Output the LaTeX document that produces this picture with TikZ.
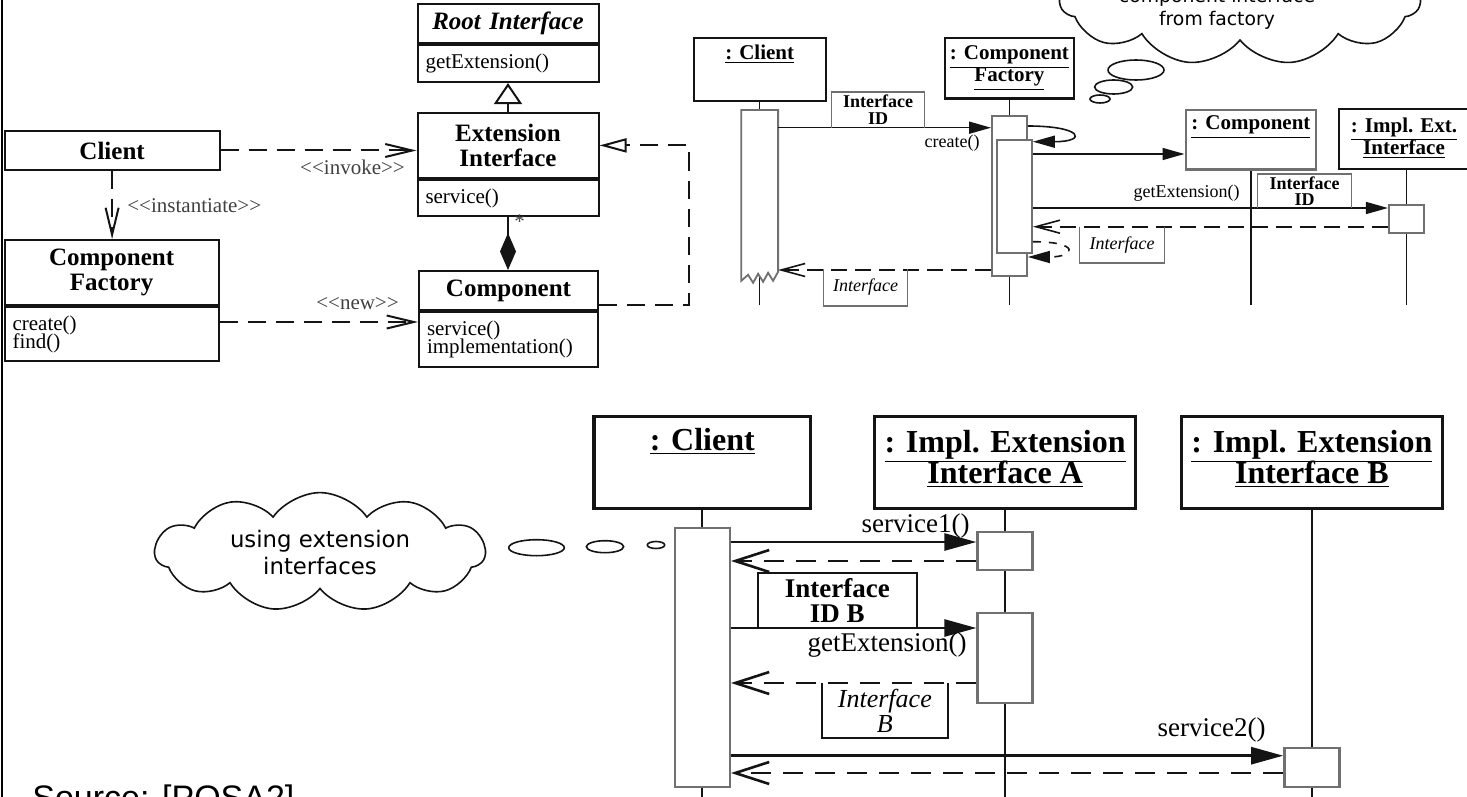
\documentclass[tikz,border=0pt]{standalone}
\usepackage{fontspec}
\usepackage{tikz}
\usetikzlibrary{arrows.meta,calc,positioning,shapes.symbols}
\setmainfont{Liberation Serif}
\newfontfamily\cloudfont{DejaVu Sans}
\newfontfamily\notefont{Liberation Sans}
\definecolor{Ink}{HTML}{141414}
\definecolor{Pale}{HTML}{707070}
\newcommand{\clsfont}{\fontsize{12.5}{12.5}\selectfont\bfseries\lineskiplimit=-20pt}
\newcommand{\opsfont}{\fontsize{10.5}{9.2}\selectfont\lineskiplimit=-20pt}
\newcommand{\hdsmall}{\fontsize{10.5}{11}\selectfont\bfseries\lineskiplimit=-20pt}
\newcommand{\tagsmall}{\fontsize{9}{8.4}\selectfont\bfseries\lineskiplimit=-20pt}
\newcommand{\msgsmall}{\fontsize{9}{10}\selectfont}
\newcommand{\hdbig}{\fontsize{16}{15.7}\selectfont\bfseries\lineskiplimit=-20pt}
\newcommand{\tagbig}{\fontsize{13.5}{12.5}\selectfont\bfseries\lineskiplimit=-20pt}
\newcommand{\tagbigit}{\fontsize{13}{12.5}\selectfont\itshape\lineskiplimit=-20pt}
\newcommand{\msgbig}{\fontsize{13.5}{14}\selectfont}
\newcommand{\stname}[1]{<\kern0pt<#1>\kern0pt>}

\begin{document}
\begin{tikzpicture}[x=0.5pt,y=-0.5pt,
    cls/.style={draw=Ink,line width=1pt,fill=white,inner xsep=4pt,inner ysep=1pt,align=center,font=\clsfont},
    ops/.style={cls,align=left,font=\opsfont},
    stereo/.style={inner sep=1pt,text=black!75,font=\opsfont},
    dep/.style={draw=Ink,line width=1pt,dash pattern=on 9pt off 5pt,-{Straight Barb[length=13.5pt,width=6.5pt]}},
    gen/.style={draw=Ink,line width=1pt,-{Triangle[open,length=10.5pt,width=14pt]}},
    real/.style={dep,-{Triangle[open,length=13.5pt,width=7pt]}},
    whole/.style={draw=Ink,line width=1pt,-{Diamond[length=18.5pt,width=8pt]}},
    head/.style={draw=Ink,line width=1.2pt,fill=white,anchor=north west},
    bighead/.style={head,line width=1.6pt},
    objname/.style={align=center,inner sep=1pt},
    act/.style={draw=Pale,line width=0.9pt,fill=white,anchor=north,minimum width=17.5pt,inner sep=0pt},
    bigact/.style={act,line width=1.2pt,minimum width=27.5pt},
    life/.style={draw=Ink,line width=0.7pt},
    biglife/.style={draw=Ink,line width=1.1pt},
    call/.style={draw=Ink,line width=0.8pt,-{Triangle[length=11pt,width=6pt]}},
    ret/.style={draw=Ink,line width=0.8pt,dash pattern=on 8pt off 4pt,-{Straight Barb[length=12pt,width=6.5pt]}},
    bigcall/.style={draw=Ink,line width=1.3pt,-{Triangle[length=16pt,width=8.5pt]}},
    bigret/.style={draw=Ink,line width=1.3pt,dash pattern=on 10pt off 6pt,-{Straight Barb[length=17pt,width=11pt]}},
    tag/.style={inner sep=0pt,align=center},
    tagline/.style={draw=Pale,line width=0.8pt},
    think/.style={cloud,cloud puffs=11,cloud puff arc=110,cloud ignores aspect,draw=Ink,line width=0.8pt,fill=white,align=center},
    bubble/.style={draw=Ink,line width=0.8pt,fill=white}]
  \useasboundingbox (0,0) rectangle (1467,797);
  \clip (0,0) rectangle (1467,797);
  \draw[line width=1pt] (2,0) -- (2,797);

  \node[think,minimum width=180pt,minimum height=65pt] (getCloud) at (1240,0) {};
  \node[align=center,font=\cloudfont\fontsize{9.4}{11.5}\selectfont] (getText) at (1217,9) {component interface\\from factory};
  \foreach \cx/\cy/\rx/\ry in {1136/70/28/10, 1113.6/87/19/7, 1100/99/10/4}
    \draw[bubble] (\cx,\cy) ellipse [x radius=\rx, y radius=\ry];
  \node[think,minimum width=165pt,minimum height=43pt,font=\cloudfont\fontsize{11.4}{13.5}\selectfont] (useCloud) at (320,552) {using extension\\interfaces};
  \foreach \cx/\cy/\rx/\ry in {536.5/547.7/27.8/8, 605/546.7/18.6/6, 656/545/8.7/3.5}
    \draw[bubble] (\cx,\cy) ellipse [x radius=\rx, y radius=\ry];

  \node[cls,anchor=north west,text width=82.5pt,minimum height=19.5pt] (rootT) at (416.5,2.7) {\textit{Root Interface}};
  \node[ops,below=0pt of rootT,text width=82.5pt,minimum height=18.7pt] (rootO) {getExtension()};
  \node[cls,anchor=north west,text width=82.5pt,minimum height=32.4pt] (extT) at (416.5,112) {Extension\\Interface};
  \node[ops,below=0pt of extT,text width=82.5pt,minimum height=18.2pt] (extO) {service()};
  \node[cls,anchor=north west,text width=99.5pt,minimum height=19.5pt] (client) at (3.6,130) {Client};
  \node[cls,anchor=north west,text width=99pt,minimum height=32.5pt] (factT) at (3.6,239) {Component\\Factory};
  \node[ops,below=0pt of factT,text width=99pt,minimum height=27.2pt] (factO) {create()\\find()};
  \node[cls,anchor=north west,text width=81.5pt,minimum height=19.5pt] (compT) at (418,270) {Component};
  \node[ops,below=0pt of compT,text width=81.5pt,minimum height=27.5pt] (compO) {service()\\implementation()};

  \draw[gen] (extT.north) -- (rootO.south);
  \draw[dep] (client.east) -- (client.east -| extT.west);
  \node[stereo] (invokeL) at (352.5,167.7) {\stname{invoke}};
  \draw[dep] (client.south) -- (client.south |- factT.north);
  \node[stereo,anchor=west] (instL) at (125,205.7) {\stname{instantiate}};
  \coordinate (newS) at ($(factO.north east)+(0,16)$);
  \draw[dep] (newS) -- (newS -| compO.west);
  \node[stereo] (newL) at (357.5,304) {\stname{new}};
  \draw[whole] (extO.south) -- (extO.south |- compT.north);
  \node[stereo,anchor=west] (star) at (512,222) {*};
  \coordinate (realS) at ($(compT.south east)+(0,-6)$);
  \draw[real] (realS) -| ($(extT.east)+(89,0)$) -- (extT.east);

  \node[head,minimum width=66pt,minimum height=31.65pt] (c1) at (692.5,36.7) {};
  \node[objname,font=\hdsmall] (c1n) at (c1.north |- 0,54) {\underline{: Client}};
  \node[head,minimum width=64.75pt,minimum height=30.3pt] (f1) at (943.5,36.7) {};
  \node[objname,font=\hdsmall] (f1n) at (f1.north |- 0,68) {\underline{: Component}\\\underline{Factory}};
  \node[head,draw=Pale,minimum width=65.25pt,minimum height=29.65pt] (p1) at (1184.5,109) {};
  \node[objname,font=\hdsmall] (p1n) at (p1.north |- 0,127) {\underline{: Component}};
  \node[head,minimum width=67.5pt,minimum height=30pt] (i1) at (1337.6,108) {};
  \node[objname,font=\hdsmall] (i1n) at (1404,138) {\underline{: Impl. Ext.}\\\underline{Interface}};
  \coordinate (endTop) at (0,305);
  \foreach \o in {c1,f1,p1,i1}
    \draw[life] (\o.south) -- (\o.south |- endTop);

  \node[act,draw=none,fill=none,minimum height=84.5pt] (ca1) at (c1.south |- 0,110) {};
  \filldraw[act] (ca1.south west) -- (ca1.north west) -- (ca1.north east) -- ($(ca1.south east)+(0,-9)$)
    \foreach \k in {1,2,3} { -- ++(-5,9) -- ++(-5,-8) } -- cycle;
  \node[act,minimum height=80pt] (fa1) at (f1.south |- 0,115) {};
  \node[act,minimum height=56.35pt,xshift=2.5pt] (fa2) at (f1.south |- 0,139) {};
  \node[act,minimum height=14pt] (ia1) at (i1.south |- 0,204) {};

  \draw[call] (ca1.east |- 0,127.7) -- (fa1.west |- 0,127.7);
  \node[tag,font=\tagsmall,minimum width=46pt,minimum height=17.5pt,anchor=south] (idTag1) at (878,127.7) {Interface\\ID};
  \draw[tagline] (idTag1.south west) |- (idTag1.north east) -- (idTag1.south east);
  \node[font=\msgsmall,anchor=east,inner sep=1pt] (createL) at (982,143) {create()};
  \draw[call] (fa1.east |- 0,126) .. controls +(55,0) and +(55,0) .. (fa2.east |- 0,141.7);
  \draw[call] (fa2.east |- 0,154) -- (p1.west |- 0,154);
  \draw[call] (fa2.east |- 0,208) -- (ia1.west |- 0,208);
  \node[font=\msgsmall,anchor=east,inner sep=1pt] (getL1) at (1242,193) {getExtension()};
  \node[tag,font=\tagsmall,minimum width=46.5pt,minimum height=16.5pt,anchor=south] (idTag2) at (1304.5,208) {Interface\\ID};
  \draw[tagline] (idTag2.south west) |- (idTag2.north east) -- (idTag2.south east);
  \draw[ret] (ia1.west |- 0,226.7) -- (fa2.east |- 0,226.7);
  \node[tag,font=\msgsmall\itshape,minimum width=42.25pt,minimum height=17.65pt,anchor=north] (ifTag1) at (1122,226.7) {Interface};
  \draw[tagline] (ifTag1.north west) |- (ifTag1.south east) -- (ifTag1.north east);
  \draw[call,dash pattern=on 4pt off 4pt] (fa2.east |- 0,241.7) .. controls +(48,0) and +(48,0) .. (fa1.east |- 0,257);
  \draw[ret] (fa1.west |- 0,270) -- (ca1.east |- 0,270);
  \node[tag,font=\msgsmall\itshape,minimum width=41.5pt,minimum height=18pt,anchor=north] (ifTag2) at (865.5,269) {Interface};
  \draw[tagline] (ifTag2.north west) |- (ifTag2.south east) -- (ifTag2.north east);

  \node[bighead,minimum width=108.3pt,minimum height=45.85pt] (c2) at (592.4,415) {};
  \node[objname,font=\hdbig] (c2n) at (c2.north |- 0,441.7) {\underline{: Client}};
  \node[bighead,minimum width=130.5pt,minimum height=45.85pt] (a2) at (873,415) {};
  \node[objname,font=\hdbig] (a2n) at (a2.north |- 0,459) {\underline{: Impl. Extension}\\\underline{Interface A}};
  \node[bighead,minimum width=130.7pt,minimum height=45.85pt] (b2) at (1179.6,415) {};
  \node[objname,font=\hdbig] (b2n) at (b2.north |- 0,459) {\underline{: Impl. Extension}\\\underline{Interface B}};
  \coordinate (endBot) at (0,800);
  \foreach \o in {c2,a2,b2}
    \draw[biglife] (\o.south) -- (\o.south |- endBot);
  \node[bigact,minimum height=129.65pt] (ca2) at (c2.south |- 0,526.7) {};
  \node[bigact,minimum height=19pt] (aa1) at (a2.south |- 0,531) {};
  \node[bigact,minimum height=45pt] (aa2) at (a2.south |- 0,611.7) {};
  \node[bigact,minimum height=19.65pt] (ba1) at (b2.south |- 0,746.7) {};

  \draw[bigcall] (ca2.east |- 0,542) -- (aa1.west |- 0,542);
  \node[font=\msgbig,anchor=east,inner sep=1pt] (s1L) at (972,526) {service1()};
  \draw[bigret] (aa1.west |- 0,561) -- (ca2.east |- 0,561);
  \node[tag,font=\tagbig,minimum width=79.3pt,minimum height=27pt,anchor=south] (idTagB) at (837.3,628) {Interface\\ID B};
  \draw[tagline,draw=Ink,line width=1.1pt] (idTagB.south west) |- (idTagB.north east) -- (idTagB.south east);
  \draw[bigcall] (ca2.east |- 0,628) -- (aa2.west |- 0,628);
  \node[font=\msgbig,anchor=east,inner sep=1pt] (getL2) at (969,645) {getExtension()};
  \draw[bigret] (aa2.west |- 0,683) -- (ca2.east |- 0,683);
  \node[tag,font=\tagbigit,minimum width=62.85pt,minimum height=27pt,anchor=north] (ifTagB) at (884.85,683) {Interface\\B};
  \draw[tagline,draw=Ink,line width=1.1pt] (ifTagB.north west) |- (ifTagB.south east) -- (ifTagB.north east);
  \draw[bigcall] (ca2.east |- 0,755.7) -- (ba1.west |- 0,755.7);
  \node[font=\msgbig,anchor=east,inner sep=1pt] (s2L) at (1268,730) {service2()};
  \draw[bigret] (ba1.west |- 0,773) -- (ca2.east |- 0,773);

  \node[font=\notefont\fontsize{17}{20}\selectfont,anchor=base west,inner sep=0pt] (src) at (32,809) {Source: [POSA2]};
\end{tikzpicture}
\end{document}
